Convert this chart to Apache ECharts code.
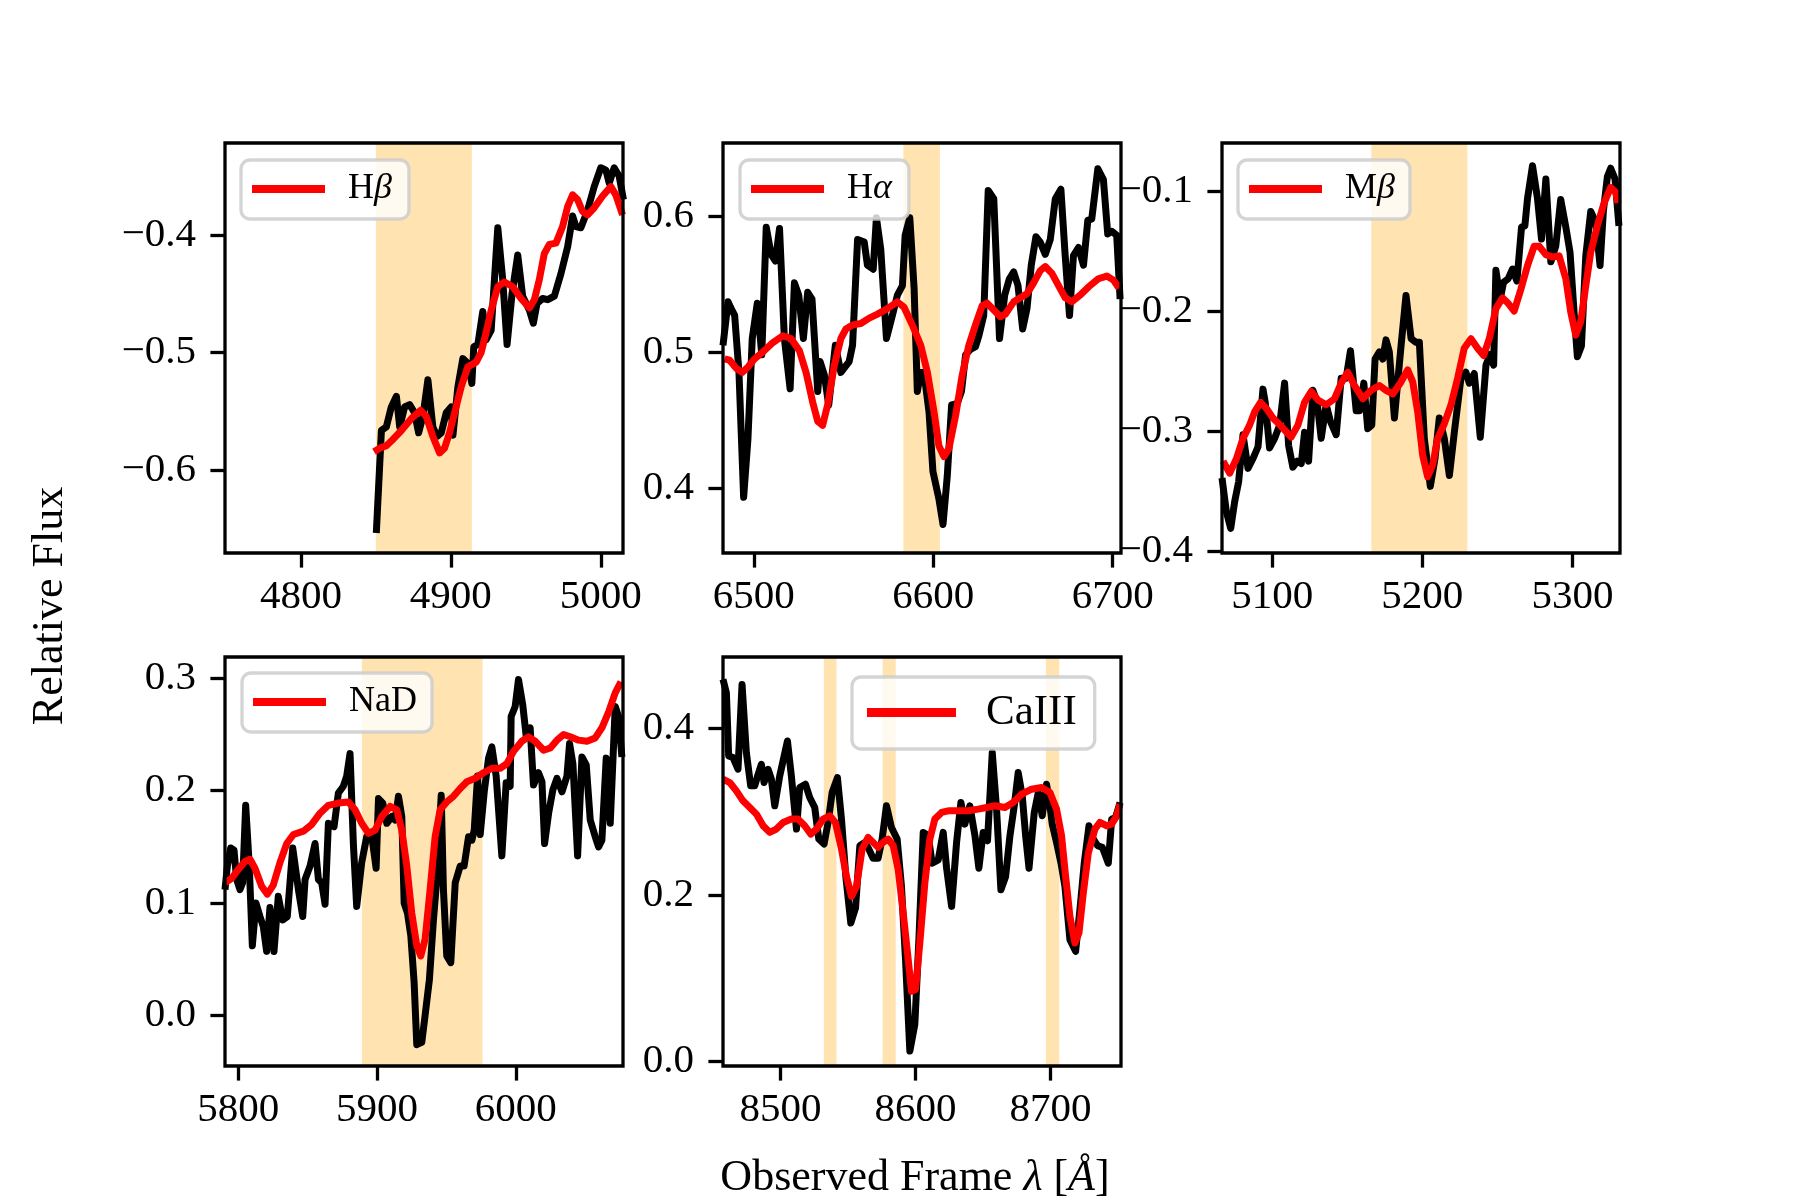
<!DOCTYPE html>
<html><head><meta charset="utf-8">
<script src="https://cdn.jsdelivr.net/npm/echarts@6/dist/echarts.min.js"></script>
<style>html,body{margin:0;padding:0;background:#fff}#c{width:1800px;height:1200px}</style>
</head><body><div id="c"></div>
<script>
// ---------------- DATA ----------------
// Hbeta panel
const hbWave = [4850.3,4853.7,4857.0,4860.3,4863.7,4865.9,4869.2,4872.5,4875.8,4878.5,4881.4,4884.7,4888.0,4890.9,4893.6,4896.9,4900.2,4901.4,4904.7,4908.0,4911.3,4914.0,4915.3,4918.0,4921.3,4923.5,4926.9,4931.3,4934.6,4937.5,4940.8,4944.6,4947.9,4952.4,4955.0,4957.5,4961.2,4964.6,4969.0,4973.4,4977.9,4981.2,4983.4,4986.7,4991.2,4995.6,5000.0,5003.4,5005.6,5008.9,5012.2,5015.1];
const hbFlux = [-0.653,-0.566,-0.563,-0.546,-0.537,-0.563,-0.546,-0.544,-0.551,-0.568,-0.554,-0.523,-0.563,-0.571,-0.568,-0.551,-0.546,-0.570,-0.529,-0.505,-0.509,-0.526,-0.495,-0.493,-0.465,-0.489,-0.481,-0.394,-0.438,-0.493,-0.450,-0.417,-0.452,-0.464,-0.475,-0.458,-0.454,-0.455,-0.452,-0.433,-0.410,-0.384,-0.393,-0.394,-0.379,-0.359,-0.343,-0.345,-0.356,-0.343,-0.350,-0.370];
const hbModelWave = [4848.8,4852.6,4857.0,4860.3,4867.0,4873.6,4879.8,4883.6,4888.0,4892.5,4895.8,4899.1,4902.5,4906.9,4911.3,4916.9,4920.2,4923.5,4926.9,4931.3,4935.7,4941.3,4946.8,4952.4,4955.7,4959.0,4962.3,4965.7,4970.1,4974.5,4977.9,4981.2,4984.5,4987.8,4991.2,4995.6,5001.2,5006.7,5010.0,5014.5];
const hbModel = [-0.584,-0.581,-0.579,-0.575,-0.566,-0.556,-0.549,-0.554,-0.571,-0.585,-0.581,-0.568,-0.551,-0.529,-0.512,-0.508,-0.500,-0.483,-0.464,-0.444,-0.440,-0.444,-0.454,-0.462,-0.455,-0.438,-0.416,-0.408,-0.407,-0.393,-0.376,-0.366,-0.370,-0.380,-0.383,-0.377,-0.367,-0.359,-0.366,-0.383];
const hbBands = [[4850, 4914]];
const hbXTicks = [4800, 4900, 5000];
const hbYTicks = [-0.6, -0.5, -0.4];

// Halpha panel
const haWave = [6482.8,6485.6,6487.4,6489.3,6491.7,6494.3,6496.7,6499.1,6501.9,6504.4,6506.9,6509.6,6512.0,6514.3,6517.0,6520.2,6522.6,6525.0,6527.6,6530.0,6532.4,6535.6,6536.9,6539.3,6541.7,6545.4,6548.5,6553.1,6555.0,6557.8,6561.5,6563.3,6566.5,6568.3,6570.7,6573.9,6577.2,6580.0,6582.8,6584.3,6586.9,6589.3,6591.1,6593.0,6594.8,6597.6,6599.8,6603.1,6605.4,6607.8,6610.2,6613.3,6615.7,6618.0,6620.7,6623.5,6625.4,6628.1,6630.6,6633.7,6636.9,6639.8,6642.4,6644.8,6647.2,6649.8,6652.2,6654.6,6657.2,6659.6,6662.4,6665.2,6668.0,6671.1,6673.5,6675.9,6678.1,6680.9,6683.7,6686.1,6688.3,6691.7,6694.8,6697.2,6699.4,6702.2,6704.1];
const haFlux = [0.505,0.537,0.532,0.527,0.485,0.393,0.436,0.510,0.536,0.498,0.592,0.572,0.567,0.591,0.510,0.473,0.551,0.542,0.510,0.544,0.539,0.471,0.493,0.483,0.461,0.505,0.485,0.493,0.505,0.583,0.581,0.564,0.561,0.599,0.576,0.510,0.527,0.542,0.549,0.586,0.599,0.547,0.471,0.485,0.485,0.456,0.412,0.392,0.373,0.409,0.461,0.462,0.471,0.498,0.502,0.504,0.512,0.527,0.619,0.613,0.510,0.542,0.554,0.559,0.549,0.517,0.532,0.564,0.585,0.581,0.572,0.583,0.613,0.620,0.571,0.527,0.571,0.577,0.564,0.597,0.598,0.635,0.627,0.587,0.589,0.586,0.539];
const haModelWave = [6483.7,6486.5,6490.2,6493.5,6496.7,6500.4,6505.0,6510.6,6516.1,6520.7,6525.4,6529.1,6532.8,6535.6,6538.3,6541.1,6544.8,6548.5,6551.3,6555.0,6559.6,6564.3,6568.9,6574.4,6580.0,6583.7,6588.3,6593.0,6596.7,6600.4,6603.1,6605.9,6608.7,6612.4,6616.1,6619.8,6623.5,6627.2,6630.0,6633.7,6637.4,6640.2,6644.8,6648.5,6652.2,6655.9,6659.6,6662.4,6666.1,6669.8,6673.5,6677.2,6681.9,6686.5,6692.0,6696.7,6700.4,6703.5];
const haModel = [0.495,0.494,0.488,0.485,0.489,0.495,0.500,0.507,0.512,0.510,0.501,0.485,0.463,0.449,0.446,0.461,0.490,0.510,0.517,0.520,0.521,0.525,0.528,0.532,0.537,0.533,0.520,0.505,0.485,0.456,0.431,0.423,0.429,0.453,0.483,0.505,0.520,0.534,0.536,0.531,0.526,0.528,0.537,0.540,0.543,0.551,0.560,0.563,0.558,0.549,0.540,0.537,0.542,0.548,0.554,0.556,0.553,0.547];
const haBands = [[6583.3, 6603.7]];
const haXTicks = [6500, 6600, 6700];
const haYTicks = [0.4, 0.5, 0.6];

// Mbeta panel
const mbWave = [5066.5,5069.4,5072.3,5074.9,5077.6,5080.5,5083.8,5087.1,5090.5,5093.8,5095.3,5098.2,5101.6,5104.9,5108.2,5110.9,5113.7,5116.6,5119.3,5121.5,5124.2,5127.1,5129.9,5132.6,5135.9,5138.8,5142.6,5145.9,5149.2,5152.1,5155.9,5158.1,5161.0,5163.6,5166.3,5168.5,5171.4,5173.6,5175.8,5178.0,5181.4,5185.8,5189.1,5192.5,5195.8,5198.0,5201.3,5205.3,5208.4,5211.3,5214.6,5218.0,5221.3,5225.7,5229.0,5231.3,5234.6,5238.6,5242.4,5245.2,5247.5,5249.0,5251.9,5254.1,5257.2,5260.1,5263.0,5266.1,5268.3,5270.1,5273.4,5276.7,5279.4,5282.3,5285.6,5288.9,5292.2,5295.6,5298.4,5301.1,5303.3,5306.0,5308.9,5312.2,5315.5,5318.4,5320.6,5323.3,5325.5,5328.4,5331.0];
const mbFlux = [-0.339,-0.367,-0.381,-0.359,-0.342,-0.303,-0.331,-0.323,-0.313,-0.265,-0.276,-0.314,-0.306,-0.295,-0.260,-0.312,-0.330,-0.325,-0.327,-0.301,-0.325,-0.266,-0.276,-0.306,-0.278,-0.292,-0.303,-0.256,-0.256,-0.233,-0.283,-0.283,-0.260,-0.298,-0.295,-0.240,-0.234,-0.240,-0.224,-0.234,-0.289,-0.229,-0.187,-0.223,-0.226,-0.226,-0.306,-0.346,-0.323,-0.289,-0.306,-0.337,-0.301,-0.256,-0.251,-0.260,-0.252,-0.305,-0.245,-0.236,-0.245,-0.166,-0.190,-0.176,-0.173,-0.165,-0.175,-0.130,-0.129,-0.106,-0.079,-0.106,-0.140,-0.090,-0.159,-0.146,-0.107,-0.130,-0.151,-0.201,-0.238,-0.229,-0.154,-0.117,-0.126,-0.162,-0.117,-0.088,-0.081,-0.090,-0.129];
const mbModelWave = [5067.2,5071.6,5076.1,5080.5,5084.9,5088.2,5092.2,5096.0,5100.4,5106.0,5112.6,5117.1,5121.5,5125.9,5130.4,5135.9,5141.5,5145.9,5150.3,5154.8,5160.3,5165.9,5171.4,5175.8,5180.3,5185.8,5190.2,5193.6,5196.9,5200.2,5203.5,5206.9,5210.2,5214.6,5219.1,5223.5,5227.9,5232.4,5236.8,5240.8,5244.6,5249.0,5253.4,5256.8,5261.2,5265.6,5270.1,5274.5,5277.8,5282.3,5286.7,5291.1,5295.6,5298.9,5302.2,5305.5,5308.9,5312.2,5316.6,5321.1,5325.5,5328.8,5330.4];
const mbModel = [-0.325,-0.335,-0.323,-0.306,-0.295,-0.284,-0.276,-0.281,-0.289,-0.296,-0.305,-0.295,-0.276,-0.267,-0.274,-0.278,-0.273,-0.260,-0.251,-0.262,-0.273,-0.266,-0.262,-0.266,-0.269,-0.259,-0.249,-0.259,-0.284,-0.320,-0.338,-0.328,-0.306,-0.294,-0.278,-0.256,-0.231,-0.223,-0.231,-0.237,-0.223,-0.198,-0.189,-0.193,-0.200,-0.182,-0.162,-0.146,-0.146,-0.153,-0.155,-0.154,-0.173,-0.201,-0.220,-0.209,-0.179,-0.151,-0.129,-0.110,-0.097,-0.101,-0.110];
const mbBands = [[5166, 5230]];
const mbXTicks = [5100, 5200, 5300];
const mbYTicks = [-0.4, -0.3, -0.2, -0.1];

// NaD panel
const naWave = [5790.4,5792.1,5794.5,5796.9,5798.8,5801.2,5803.1,5805.3,5807.9,5810.1,5812.7,5815.6,5818.0,5820.4,5822.8,5825.7,5828.8,5832.0,5835.3,5839.2,5843.3,5846.4,5848.1,5851.7,5855.3,5857.7,5860.1,5862.5,5864.9,5869.0,5872.1,5875.7,5878.1,5880.5,5882.9,5885.3,5888.9,5892.5,5896.2,5899.3,5901.0,5904.1,5907.0,5910.6,5913.0,5915.4,5917.8,5919.5,5921.9,5924.3,5926.7,5928.6,5932.2,5934.6,5937.7,5940.6,5943.0,5946.2,5947.8,5950.2,5953.1,5956.3,5959.9,5962.7,5965.9,5968.3,5970.0,5972.4,5974.3,5977.2,5980.3,5982.7,5985.8,5989.9,5993.0,5995.9,5996.6,5999.5,6001.9,6005.0,6007.5,6010.3,6012.7,6016.3,6018.8,6020.7,6023.6,6026.7,6029.6,6033.2,6036.8,6038.7,6041.1,6044.5,6047.6,6050.7,6053.6,6057.2,6059.6,6062.0,6065.1,6068.0,6071.6,6074.0,6076.4];
const naFlux = [0.112,0.133,0.149,0.147,0.121,0.112,0.118,0.187,0.133,0.062,0.100,0.088,0.079,0.057,0.096,0.057,0.106,0.085,0.088,0.149,0.112,0.088,0.121,0.133,0.153,0.121,0.118,0.099,0.171,0.168,0.198,0.204,0.213,0.233,0.153,0.097,0.136,0.159,0.159,0.131,0.193,0.189,0.171,0.177,0.174,0.195,0.177,0.100,0.091,0.071,0.029,-0.026,-0.024,0.000,0.032,0.085,0.121,0.196,0.112,0.053,0.047,0.118,0.133,0.133,0.159,0.156,0.165,0.213,0.161,0.199,0.229,0.239,0.213,0.142,0.207,0.204,0.266,0.275,0.299,0.276,0.248,0.256,0.205,0.216,0.208,0.153,0.180,0.201,0.211,0.199,0.213,0.242,0.224,0.142,0.230,0.223,0.174,0.159,0.150,0.156,0.229,0.171,0.275,0.266,0.230];
const naModelWave = [5790.4,5795.2,5800.0,5804.8,5808.4,5812.0,5816.8,5820.9,5825.2,5830.0,5834.9,5839.7,5846.9,5852.9,5858.9,5864.9,5872.1,5879.3,5884.1,5888.9,5893.8,5898.6,5903.4,5909.4,5914.2,5917.8,5921.4,5925.0,5928.6,5931.5,5934.6,5938.2,5941.8,5945.4,5950.2,5955.0,5959.9,5964.7,5970.7,5976.7,5982.7,5988.7,5993.5,5998.3,6004.3,6009.1,6013.9,6020.0,6024.8,6029.6,6034.4,6039.2,6045.2,6051.2,6057.2,6062.0,6066.8,6071.6,6075.7];
const naModel = [0.118,0.122,0.130,0.137,0.139,0.131,0.115,0.108,0.116,0.136,0.153,0.161,0.164,0.170,0.180,0.187,0.189,0.190,0.183,0.171,0.162,0.165,0.177,0.186,0.183,0.165,0.133,0.091,0.062,0.053,0.068,0.112,0.159,0.183,0.190,0.195,0.202,0.208,0.211,0.216,0.220,0.220,0.224,0.235,0.244,0.248,0.244,0.236,0.238,0.245,0.250,0.248,0.245,0.244,0.247,0.256,0.270,0.287,0.297];
const naBands = [[5889, 5976]];
const naXTicks = [5800, 5900, 6000];
const naYTicks = [0.0, 0.1, 0.2, 0.3];

// CaIII panel
const caWave = [8457.5,8460.0,8461.7,8464.9,8468.6,8471.6,8474.8,8478.0,8481.0,8483.5,8485.9,8487.9,8490.9,8493.3,8495.8,8499.5,8505.2,8508.1,8511.9,8514.3,8518.5,8521.7,8525.4,8528.4,8532.3,8535.3,8538.3,8542.2,8545.2,8548.4,8552.1,8555.6,8558.8,8562.5,8565.4,8568.6,8572.3,8575.3,8578.5,8582.2,8586.4,8589.6,8592.6,8595.8,8599.5,8602.5,8605.7,8609.4,8612.3,8616.8,8620.5,8623.0,8626.7,8630.4,8633.6,8636.5,8640.2,8644.0,8646.9,8650.1,8653.3,8656.8,8660.0,8663.2,8666.7,8669.9,8673.1,8676.0,8679.0,8681.5,8684.0,8687.9,8690.9,8693.8,8697.0,8699.5,8701.2,8704.4,8707.7,8710.6,8714.3,8718.5,8721.7,8724.9,8728.4,8731.6,8734.8,8738.3,8742.7,8745.2,8748.1,8751.4];
const caFlux = [0.459,0.443,0.367,0.365,0.351,0.453,0.371,0.331,0.331,0.345,0.357,0.335,0.351,0.339,0.307,0.343,0.385,0.343,0.279,0.329,0.333,0.317,0.305,0.267,0.261,0.287,0.323,0.341,0.291,0.222,0.166,0.184,0.259,0.263,0.255,0.244,0.244,0.267,0.307,0.281,0.267,0.210,0.122,0.012,0.044,0.146,0.275,0.271,0.238,0.242,0.275,0.232,0.186,0.263,0.311,0.285,0.307,0.271,0.232,0.275,0.265,0.371,0.303,0.206,0.222,0.271,0.307,0.347,0.319,0.271,0.232,0.299,0.323,0.295,0.333,0.307,0.285,0.263,0.238,0.210,0.146,0.132,0.182,0.238,0.283,0.267,0.259,0.257,0.238,0.291,0.293,0.311];
const caModelWave = [8457.5,8462.5,8467.4,8472.3,8477.3,8482.2,8487.2,8492.1,8497.0,8502.0,8508.1,8513.1,8518.0,8522.5,8526.7,8531.6,8536.5,8540.7,8545.2,8548.9,8552.6,8556.3,8560.5,8564.9,8568.6,8572.3,8576.0,8579.8,8583.5,8587.2,8590.9,8594.6,8597.0,8600.0,8603.2,8606.9,8610.6,8614.3,8619.3,8624.2,8631.6,8639.0,8646.4,8652.6,8658.8,8666.2,8672.3,8678.5,8685.9,8693.3,8699.5,8704.4,8708.1,8711.1,8714.3,8718.0,8721.0,8724.2,8727.9,8732.8,8736.5,8741.5,8745.2,8748.9,8751.4];
const caModel = [0.339,0.335,0.325,0.313,0.305,0.297,0.283,0.275,0.279,0.287,0.291,0.291,0.283,0.273,0.279,0.291,0.295,0.287,0.255,0.222,0.198,0.210,0.255,0.269,0.263,0.257,0.263,0.267,0.259,0.230,0.178,0.122,0.084,0.086,0.142,0.214,0.267,0.291,0.299,0.301,0.301,0.301,0.303,0.305,0.307,0.305,0.311,0.321,0.327,0.329,0.323,0.303,0.271,0.222,0.174,0.142,0.154,0.202,0.250,0.279,0.287,0.283,0.285,0.295,0.309];
const caBands = [[8532.1, 8541.5], [8575.6, 8585.4], [8696.5, 8706.4]];
const caXTicks = [8500, 8600, 8700];
const caYTicks = [0.0, 0.2, 0.4];

const panelNames = ['Hβ', 'Hα', 'Mβ', 'NaD', 'CaIII'];
const xTitle = 'Observed Frame λ [Å]';
const yTitle = 'Relative Flux';

// ---------------- LAYOUT / STYLE ----------------
const FONT = 'Liberation Serif';
const TICK_FS = 41;
const LW = 7;
const panels = [
  {name: panelNames[0], w: hbWave, f: hbFlux, mw: hbModelWave, m: hbModel, bands: hbBands, xt: hbXTicks, yt: hbYTicks,
   grid: [225, 143, 398, 410], x: [4749.4, 5014.8], y: [-0.670, -0.322], yDec: 1,
   leg: {left: 241, top: 160, iw: 73, ih: 8, gap: 18, fs: 36, pad: [11, 17, 12, 11]}},
  {name: panelNames[1], w: haWave, f: haFlux, mw: haModelWave, m: haModel, bands: haBands, xt: haXTicks, yt: haYTicks,
   grid: [723, 143, 398, 410], x: [6482.8, 6704.6], y: [0.352, 0.654], yDec: 1,
   leg: {left: 740, top: 160, iw: 73, ih: 8, gap: 18, fs: 36, pad: [11, 17, 12, 11]}},
  {name: panelNames[2], w: mbWave, f: mbFlux, mw: mbModelWave, m: mbModel, bands: mbBands, xt: mbXTicks, yt: mbYTicks,
   grid: [1222, 143, 398, 410], x: [5066.5, 5331.7], y: [-0.4015, -0.060], yDec: 1,
   leg: {left: 1238, top: 160, iw: 73, ih: 8, gap: 18, fs: 36, pad: [11, 15, 12, 11]}},
  {name: panelNames[3], w: naWave, f: naFlux, mw: naModelWave, m: naModel, bands: naBands, xt: naXTicks, yt: naYTicks,
   grid: [225, 657, 398, 409], x: [5790.4, 6077.2], y: [-0.045, 0.319], yDec: 1,
   leg: {left: 242, top: 673, iw: 73, ih: 8, gap: 18, fs: 36, pad: [11, 15, 12, 11]}},
  {name: panelNames[4], w: caWave, f: caFlux, mw: caModelWave, m: caModel, bands: caBands, xt: caXTicks, yt: caYTicks,
   grid: [723, 657, 398, 409], x: [8457.5, 8752.1], y: [-0.006, 0.486], yDec: 1,
   leg: {left: 852, top: 677, iw: 89, ih: 9, gap: 25, fs: 43, pad: [14, 18, 15, 15]}}
];

const zip = (a, b) => a.map((v, i) => [v, b[i]]);
const fmtNum = (v, d) => { const s = v.toFixed(d); return (v < 0 && s !== (0).toFixed(d)) ? '\u2212' + s.slice(1) : s.replace('-', ''); };

const grids = [], xAxes = [], yAxes = [], series = [], legends = [];
panels.forEach((p, i) => {
  grids.push({left: p.grid[0], top: p.grid[1], width: p.grid[2], height: p.grid[3],
    show: true, borderColor: '#000', borderWidth: 3.3, backgroundColor: 'transparent', z: 10, containLabel: false});
  const tickStyle = {color: '#000', width: 3.3};
  xAxes.push({type: 'value', gridIndex: i, min: p.x[0], max: p.x[1], position: 'bottom',
    axisLine: {show: false, onZero: false}, splitLine: {show: false},
    axisTick: {show: true, inside: false, length: 14.6, lineStyle: tickStyle, customValues: p.xt},
    axisLabel: {show: true, customValues: p.xt, margin: 24, color: '#000', fontFamily: FONT, fontSize: TICK_FS,
      formatter: v => String(Math.round(v))}, z: 11});
  yAxes.push({type: 'value', gridIndex: i, min: p.y[0], max: p.y[1], position: 'left',
    axisLine: {show: false, onZero: false}, splitLine: {show: false},
    axisTick: {show: true, inside: false, length: 14.6, lineStyle: tickStyle, customValues: p.yt},
    axisLabel: {show: true, customValues: p.yt, margin: 29, color: '#000', fontFamily: FONT, fontSize: TICK_FS,
      formatter: v => fmtNum(v, p.yDec)}, z: 11});
  series.push({name: p.name + ' data', type: 'line', xAxisIndex: i, yAxisIndex: i, data: zip(p.w, p.f),
    showSymbol: false, symbol: 'none', clip: true, z: 2, color: '#000',
    lineStyle: {color: '#000', width: LW, join: 'round'},
    markArea: {silent: true, itemStyle: {color: 'rgba(255,165,0,0.3)', borderWidth: 0},
      data: p.bands.map(b => [{xAxis: b[0]}, {xAxis: b[1]}])}});
  series.push({name: p.name, type: 'line', xAxisIndex: i, yAxisIndex: i, data: zip(p.mw, p.m),
    showSymbol: false, symbol: 'none', clip: true, z: 3, color: '#ff0000',
    lineStyle: {color: '#ff0000', width: LW, join: 'round'}});
  const L = p.leg;
  legends.push({data: [p.name], left: L.left, top: L.top, orient: 'horizontal', selectedMode: false, z: 20,
    icon: 'rect', itemWidth: L.iw, itemHeight: L.ih, itemGap: 0, padding: L.pad,
    backgroundColor: 'rgba(255,255,255,0.8)', borderColor: 'rgba(204,204,204,0.85)', borderWidth: 3.3, borderRadius: 9,
    itemStyle: {color: '#ff0000', borderWidth: 0},
    formatter: n => {
      const m = n.match(/^(.*?)([αβ])$/);
      return '{s|}' + (m ? '{t|' + m[1] + '}{i|' + m[2] + '}' : '{t|' + n + '}');
    },
    textStyle: {color: '#000', fontFamily: FONT, fontSize: L.fs, lineHeight: L.fs,
      rich: {s: {width: L.gap}, t: {fontFamily: FONT, fontSize: L.fs, color: '#000'},
        i: {fontFamily: FONT, fontSize: L.fs, fontStyle: 'italic', color: '#000'}}}});
});

const chart = echarts.init(document.getElementById('c'), null, {renderer: 'canvas', width: 1800, height: 1200});
chart.setOption({
  backgroundColor: '#fff',
  animation: false,
  grid: grids, xAxis: xAxes, yAxis: yAxes, series: series, legend: legends,
  graphic: [
    {type: 'text', x: 915, y: 1178, z: 30,
      style: {text: '{t|Observed Frame }{i|λ}{t| [}{i|Å}{t|]}', align: 'center', verticalAlign: 'middle',
        rich: {t: {fontFamily: FONT, fontSize: 44, fill: '#000'}, i: {fontFamily: FONT, fontSize: 44, fontStyle: 'italic', fill: '#000'}}}},
    {type: 'text', x: 50, y: 606, rotation: Math.PI / 2, z: 30,
      style: {text: yTitle, align: 'center', verticalAlign: 'middle', fontFamily: FONT, fontSize: 44, fill: '#000'}}
  ]
});
</script>
</body></html>
